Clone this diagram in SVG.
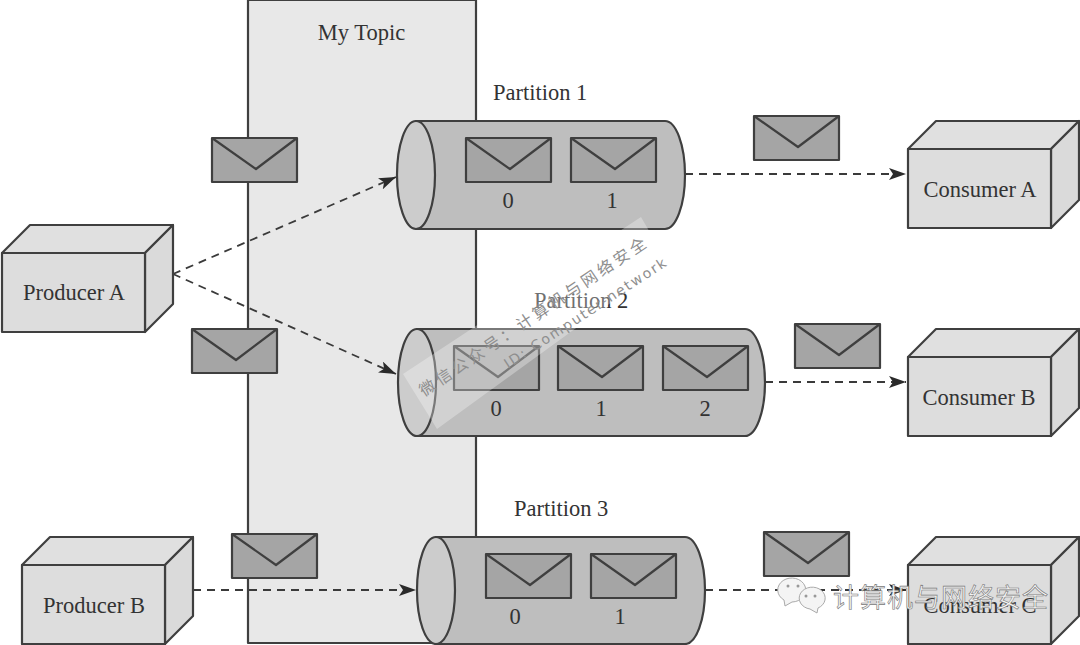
<svg xmlns="http://www.w3.org/2000/svg" width="1080" height="645" viewBox="0 0 1080 645">
<style>
text{font-family:"Liberation Serif","Noto Sans CJK SC",serif;font-size:22.500px;fill:#333}
.m{text-anchor:middle}
.s{stroke:#3f3f3f;stroke-width:2.200;stroke-linejoin:round}
.env{fill:#a5a5a5}
.flap{fill:none}
.bf{fill:#dddddd}
.bt{fill:#e0e0e0}
.bs{fill:#dadada}
.cy{fill:#bebebe}
.ce{fill:#cccccc}
.c{fill:none;stroke:#3a3a3a;stroke-width:1.800;stroke-dasharray:8 6}
.wm{font-family:"Noto Sans CJK SC","Liberation Sans",sans-serif;fill:#8e8e8e}
</style>
<defs>
<g id="e"><rect class="s env" width="85" height="44"/><path class="s flap" d="M0 0L44 31L85 0"/></g>
<g id="b"><path class="s bt" d="M0 28L28 0H171L143 28Z"/><path class="s bs" d="M143 28L171 0V79L143 107Z"/><rect class="s bf" y="28" width="143" height="79"/></g>
<marker id="a" markerWidth="18" markerHeight="12" refX="17" refY="6" orient="auto" markerUnits="userSpaceOnUse"><path d="M0 0L17 6L0 12L4 6Z" fill="#2a2a2a"/></marker>
</defs>
<rect width="1080" height="645" fill="#fff"/>
<g id="topic"><rect class="s" x="248" y="0" width="228" height="643" fill="#e8e8e8"/><text class="m" x="361.500" y="40">My Topic</text></g>
<g id="connectors">
<path class="c" marker-end="url(#a)" d="M173 274L396 177"/>
<path class="c" marker-end="url(#a)" d="M173 274L396 374"/>
<path class="c" marker-end="url(#a)" d="M193 590H416"/>
<path class="c" marker-end="url(#a)" d="M685 174H906"/>
<path class="c" marker-end="url(#a)" d="M765 382H906"/>
<path class="c" marker-end="url(#a)" d="M705 590H906"/>
</g>
<g id="producer-a"><use href="#b" x="2" y="225"/><text class="m" x="74" y="300">Producer A</text></g>
<g id="producer-b"><use href="#b" x="22" y="537"/><text class="m" x="94" y="613">Producer B</text></g>
<g id="consumer-a"><use href="#b" x="908" y="121"/><text class="m" x="980" y="197">Consumer A</text></g>
<g id="consumer-b"><use href="#b" x="908" y="329"/><text class="m" x="979" y="405">Consumer B</text></g>
<g id="consumer-c"><use href="#b" x="908" y="537"/><text class="m" x="980" y="613">Consumer C</text></g>
<g id="msg-in-1"><use href="#e" x="212" y="138"/></g>
<g id="msg-in-2"><use href="#e" x="192" y="329"/></g>
<g id="msg-in-3"><use href="#e" x="232" y="534"/></g>
<g id="msg-out-1"><use href="#e" x="754" y="116"/></g>
<g id="msg-out-2"><use href="#e" x="795" y="324"/></g>
<g id="msg-out-3"><use href="#e" x="764" y="532"/></g>
<g id="partition-1">
<text x="493" y="100">Partition 1</text>
<path class="s cy" d="M416 121H665A20 54 0 0 1 665 229H416Z"/><ellipse class="s ce" cx="416" cy="175" rx="19" ry="54"/>
<use href="#e" x="466" y="138"/><use href="#e" x="571" y="138"/>
<text class="m" x="508" y="208">0</text><text class="m" x="612" y="208">1</text>
</g>
<g id="partition-2">
<text x="534" y="308">Partition 2</text>
<path class="s cy" d="M417 329H745A20 53.500 0 0 1 745 436H417Z"/><ellipse class="s ce" cx="417" cy="382.500" rx="19" ry="53.500"/>
<use href="#e" x="454" y="346"/><use href="#e" x="558" y="346"/><use href="#e" x="663" y="346"/>
<text class="m" x="496" y="416">0</text><text class="m" x="601" y="416">1</text><text class="m" x="705" y="416">2</text>
</g>
<g id="partition-3">
<text x="514" y="516">Partition 3</text>
<path class="s cy" d="M436 537H685A20 53.500 0 0 1 685 644H436Z"/><ellipse class="s ce" cx="436" cy="590.500" rx="19" ry="53.500"/>
<use href="#e" x="486" y="554"/><use href="#e" x="591" y="554"/>
<text class="m" x="515" y="624">0</text><text class="m" x="620" y="624">1</text>
</g>
<g id="watermark">
<polygon points="403,374 641,217 667,262 437,429" fill="#fff" fill-opacity=".3"/>
<text class="wm" transform="translate(424,397) rotate(-34)" style="font-size:16px;letter-spacing:3.500px">微信公众号：计算机与网络安全</text>
<text class="wm" transform="translate(508,369) rotate(-33)" textLength="190" style="font-size:14px;font-family:'DejaVu Sans',sans-serif">ID: Computer-network</text>
<g fill="#f4f4f4" stroke="#aaa" stroke-width="1"><path d="M784 600a14 12 0 1 1 8 2l-7 4Z"/><path d="M818 608a13 11 0 1 0-8 1l7 4Z"/></g>
<g fill="#999"><circle cx="788" cy="586" r="1.500"/><circle cx="798" cy="586" r="1.500"/><circle cx="806" cy="596" r="1.500"/><circle cx="815" cy="596" r="1.500"/></g>
<text x="833" y="607" style="font-family:'Noto Sans CJK SC',sans-serif;font-size:26px;letter-spacing:1px;fill:#f4f4f4;stroke:#777;stroke-width:.6">计算机与网络安全</text>
</g>
</svg>
